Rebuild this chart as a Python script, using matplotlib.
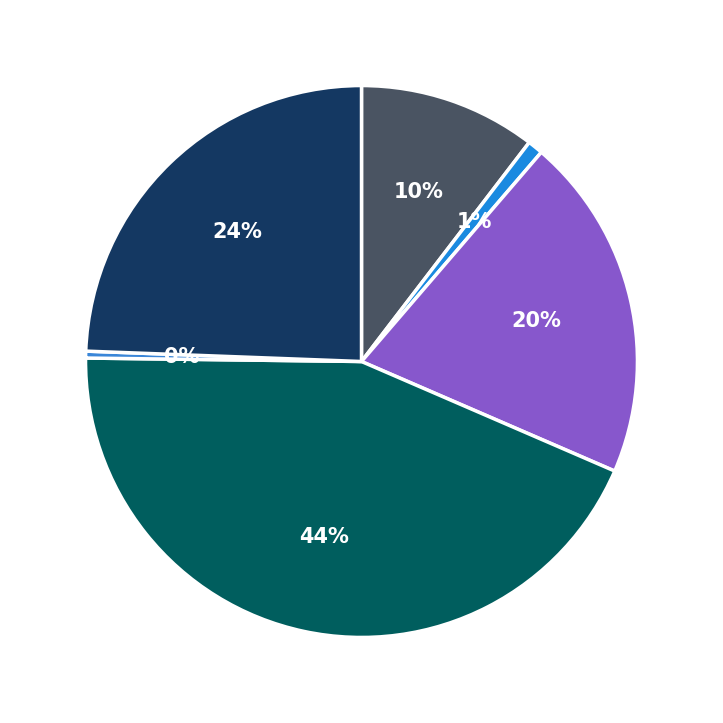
import matplotlib
matplotlib.use("Agg")
import matplotlib.pyplot as plt

labels = ["A", "B", "C", "D", "E", "F"]
values = [10.4, 0.9, 20.2, 43.7, 0.4, 24.4]
colors = ["#4a5462", "#1a8ae0", "#8757cc", "#005e5e", "#3a86d8", "#143862"]

fig = plt.figure(figsize=(7.23, 7.23), dpi=100)
ax = fig.add_axes([0, 0, 1, 1])
ax.pie(values, colors=colors, startangle=90, counterclock=False,
       autopct="%.0f%%", pctdistance=0.65, radius=1,
       wedgeprops=dict(edgecolor="white", linewidth=2.5),
       textprops=dict(color="white", fontsize=15, fontweight="bold"))
ax.set_xlim(-1.31, 1.31)
ax.set_ylim(-1.31, 1.31)
ax.set_aspect("equal")
ax.axis("off")
fig.savefig("out.png", dpi=100)
